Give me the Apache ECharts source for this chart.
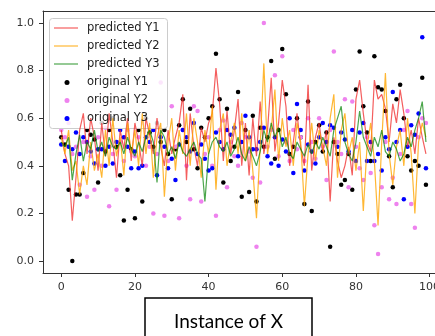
<!DOCTYPE html>
<html>
<head>
<meta charset="utf-8">
<script src="https://cdn.jsdelivr.net/npm/echarts@6/dist/echarts.min.js"></script>
<style>
  html, body { margin: 0; padding: 0; background: #fff; }
  #chart { width: 435px; height: 336px; }
</style>
</head>
<body>
<div id="chart"></div>
<script>
// Tick positions shown on each axis
const xTicks = [0, 20, 40, 60, 80, 100];
const yTicks = [0.0, 0.2, 0.4, 0.6, 0.8, 1.0];

// Model outputs for each instance (index = instance number)
const predictedY1 = [0.55,0.45,0.40,0.17,0.35,0.55,0.62,0.45,0.60,0.52,0.38,0.58,0.44,0.62,0.50,0.35,0.55,0.47,0.60,0.42,
  0.58,0.50,0.40,0.60,0.53,0.45,0.60,0.48,0.40,0.55,0.45,0.52,0.58,0.70,0.34,0.62,0.48,0.40,0.56,0.50,
  0.58,0.62,0.81,0.66,0.42,0.63,0.45,0.55,0.68,0.40,0.58,0.36,0.60,0.44,0.67,0.45,0.55,0.77,0.46,0.58,
  0.76,0.65,0.40,0.50,0.62,0.48,0.40,0.74,0.38,0.52,0.58,0.46,0.55,0.25,0.52,0.42,0.35,0.40,0.48,0.36,
  0.68,0.76,0.62,0.50,0.46,0.76,0.68,0.70,0.64,0.50,0.66,0.58,0.72,0.62,0.48,0.55,0.45,0.60,0.52,0.45];
const predictedY2 = [0.52,0.45,0.55,0.38,0.42,0.28,0.40,0.32,0.50,0.38,0.45,0.35,0.55,0.40,0.60,0.44,0.52,0.36,0.58,0.45,
  0.55,0.40,0.62,0.45,0.58,0.35,0.52,0.58,0.27,0.50,0.60,0.38,0.55,0.45,0.62,0.40,0.60,0.50,0.35,0.55,
  0.45,0.65,0.30,0.55,0.62,0.40,0.50,0.58,0.45,0.62,0.42,0.55,0.38,0.18,0.48,0.83,0.45,0.55,0.72,0.42,
  0.60,0.48,0.55,0.40,0.58,0.50,0.23,0.45,0.58,0.42,0.55,0.48,0.40,0.60,0.70,0.35,0.55,0.62,0.45,0.52,
  0.38,0.50,0.21,0.48,0.58,0.42,0.15,0.50,0.79,0.45,0.32,0.48,0.55,0.40,0.60,0.45,0.20,0.50,0.58,0.52];
const predictedY3 = [0.50,0.48,0.52,0.34,0.45,0.53,0.42,0.50,0.47,0.55,0.46,0.50,0.44,0.52,0.48,0.47,0.50,0.45,0.52,0.47,
  0.44,0.50,0.46,0.52,0.55,0.50,0.33,0.55,0.52,0.45,0.48,0.43,0.50,0.46,0.44,0.47,0.50,0.45,0.43,0.25,
  0.45,0.50,0.52,0.48,0.46,0.50,0.44,0.47,0.52,0.45,0.42,0.48,0.44,0.40,0.46,0.55,0.50,0.58,0.52,0.56,
  0.48,0.52,0.45,0.43,0.50,0.47,0.44,0.49,0.45,0.50,0.47,0.52,0.48,0.44,0.55,0.60,0.65,0.50,0.45,0.42,
  0.50,0.63,0.52,0.48,0.44,0.52,0.48,0.55,0.46,0.44,0.50,0.47,0.42,0.45,0.52,0.48,0.55,0.60,0.67,0.50];

// Observed targets for each instance
const originalY1 = [0.52,0.49,0.30,0.00,0.28,0.28,0.37,0.55,0.53,0.51,0.33,0.58,0.46,0.55,0.60,0.48,0.36,0.17,0.30,0.47,
  0.18,0.55,0.25,0.60,0.54,0.48,0.58,0.50,0.55,0.45,0.26,0.47,0.57,0.68,0.50,0.64,0.47,0.39,0.56,0.52,
  0.60,0.65,0.87,0.68,0.33,0.64,0.42,0.48,0.71,0.27,0.55,0.29,0.61,0.25,0.56,0.48,0.52,0.84,0.43,0.55,
  0.89,0.70,0.45,0.48,0.60,0.52,0.24,0.67,0.21,0.50,0.57,0.46,0.54,0.06,0.50,0.45,0.32,0.34,0.45,0.30,
  0.72,0.88,0.65,0.54,0.42,0.86,0.73,0.72,0.63,0.44,0.31,0.68,0.74,0.60,0.44,0.38,0.42,0.40,0.77,0.32];
const originalY2 = [0.55,0.52,0.58,0.45,0.48,0.32,0.50,0.27,0.44,0.30,0.52,0.40,0.56,0.23,0.45,0.30,0.50,0.42,0.55,0.46,
  0.44,0.52,0.58,0.40,0.48,0.20,0.45,0.75,0.19,0.42,0.65,0.48,0.18,0.55,0.40,0.26,0.65,0.63,0.25,0.45,
  0.52,0.40,0.19,0.55,0.59,0.31,0.50,0.44,0.40,0.58,0.52,0.46,0.35,0.06,0.33,1.00,0.48,0.55,0.78,0.44,
  0.86,0.50,0.42,0.55,0.47,0.52,0.42,0.60,0.50,0.43,0.60,0.48,0.34,0.55,0.88,0.50,0.45,0.68,0.31,0.67,
  0.48,0.39,0.34,0.52,0.37,0.15,0.03,0.31,0.50,0.26,0.35,0.24,0.45,0.55,0.63,0.24,0.14,0.52,0.60,0.58];
const originalY3 = [0.49,0.42,0.48,0.47,0.54,0.45,0.52,0.50,0.46,0.41,0.47,0.47,0.40,0.48,0.41,0.50,0.55,0.52,0.48,0.39,
  0.46,0.39,0.40,0.52,0.50,0.55,0.36,0.52,0.48,0.39,0.43,0.34,0.49,0.55,0.52,0.46,0.58,0.45,0.49,0.43,
  0.38,0.39,0.54,0.50,0.47,0.55,0.53,0.56,0.44,0.50,0.61,0.52,0.47,0.47,0.50,0.56,0.44,0.41,0.52,0.40,
  0.51,0.46,0.60,0.37,0.66,0.55,0.38,0.49,0.46,0.41,0.52,0.58,0.50,0.57,0.56,0.48,0.54,0.51,0.46,0.55,
  0.42,0.54,0.58,0.42,0.50,0.42,0.45,0.38,0.52,0.47,0.71,0.50,0.55,0.26,0.48,0.57,0.53,0.62,0.94,0.39];

const pairs = ys => ys.map((v, i) => [i, v]);

const lineSeries = (name, ys, color) => ({
  name, type: 'line', data: pairs(ys), showSymbol: false, symbol: 'none',
  lineStyle: { color, width: 1.2 }, itemStyle: { color }, z: 3
});
const dotSeries = (name, ys, color) => ({
  name, type: 'scatter', data: pairs(ys), symbolSize: 4.5,
  itemStyle: { color, opacity: 1 }, z: 2
});

const tickFont = { fontFamily: 'DejaVu Sans', fontSize: 11, color: '#333' };
const legendText = { fontFamily: 'DejaVu Sans', fontSize: 11.5, color: '#222', lineHeight: 14 };
const axisStroke = { color: '#333', width: 1 };

// The plotting frame runs past the right edge of the canvas, so the
// visible x range stops a little after 100.
const X_MIN = -4.95, X_MAX = 101.46;

const chart = echarts.init(document.getElementById('chart'), null, { renderer: 'canvas' });
chart.setOption({
  animation: false,
  backgroundColor: '#fff',
  grid: { left: 43, top: 11, right: 0, bottom: 63, show: false, outerBoundsMode: 'none', containLabel: false },
  xAxis: [
    {
      type: 'value', min: X_MIN, max: X_MAX, position: 'bottom',
      splitLine: { show: false },
      axisLine: { show: true, onZero: false, lineStyle: axisStroke },
      axisTick: { show: true, length: 4, customValues: xTicks, lineStyle: { color: '#333' } },
      axisLabel: { customValues: xTicks, margin: 9, hideOverlap: false, ...tickFont }
    },
    {
      type: 'value', min: X_MIN, max: X_MAX, position: 'top',
      splitLine: { show: false },
      axisLine: { show: true, onZero: false, lineStyle: axisStroke },
      axisTick: { show: false }, axisLabel: { show: false }
    }
  ],
  yAxis: {
    type: 'value', min: -0.05, max: 1.05,
    splitLine: { show: false },
    axisLine: { show: true, onZero: false, lineStyle: axisStroke },
    axisTick: { show: true, length: 4, customValues: yTicks, lineStyle: { color: '#333' } },
    axisLabel: { customValues: yTicks, margin: 9, formatter: v => v.toFixed(1), ...tickFont }
  },
  legend: [
    {
      orient: 'vertical', left: 54, top: 21, padding: 0,
      itemWidth: 24, itemHeight: 14, itemGap: 4,
      icon: 'path://M0,0H24V1.2H0Z',
      data: ['predicted Y1', 'predicted Y2', 'predicted Y3'],
      textStyle: { ...legendText, padding: [0, 0, 0, 4] }
    },
    {
      orient: 'vertical', left: 64.5, top: 75.5, padding: 0,
      itemWidth: 5, itemHeight: 14, itemGap: 4, icon: 'circle',
      data: ['original Y1', 'original Y2', 'original Y3'],
      textStyle: { ...legendText, padding: [0, 0, 0, 12.5] }
    }
  ],
  graphic: [
    {
      type: 'rect', z: 3, silent: true,
      shape: { x: 49.5, y: 18.5, width: 118, height: 110, r: 3 },
      style: { fill: 'rgba(255,255,255,0.8)', stroke: '#cccccc', lineWidth: 1 }
    },
    {
      type: 'rect', z: 10, silent: true,
      shape: { x: 145, y: 298, width: 167, height: 60 },
      style: { fill: '#fff', stroke: '#000', lineWidth: 1.5 }
    },
    {
      type: 'text', z: 11, silent: true, x: 228.5, y: 322,
      style: {
        text: 'Instance of X', fill: '#000',
        font: '19px Lato', textAlign: 'center', textVerticalAlign: 'middle'
      }
    }
  ],
  series: [
    lineSeries('predicted Y1', predictedY1, 'rgba(240,40,40,0.75)'),
    lineSeries('predicted Y2', predictedY2, 'rgba(255,165,0,0.8)'),
    lineSeries('predicted Y3', predictedY3, 'rgba(0,128,0,0.7)'),
    dotSeries('original Y1', originalY1, '#000000'),
    dotSeries('original Y2', originalY2, '#ee82ee'),
    dotSeries('original Y3', originalY3, '#0000ff')
  ]
});
</script>
</body>
</html>
